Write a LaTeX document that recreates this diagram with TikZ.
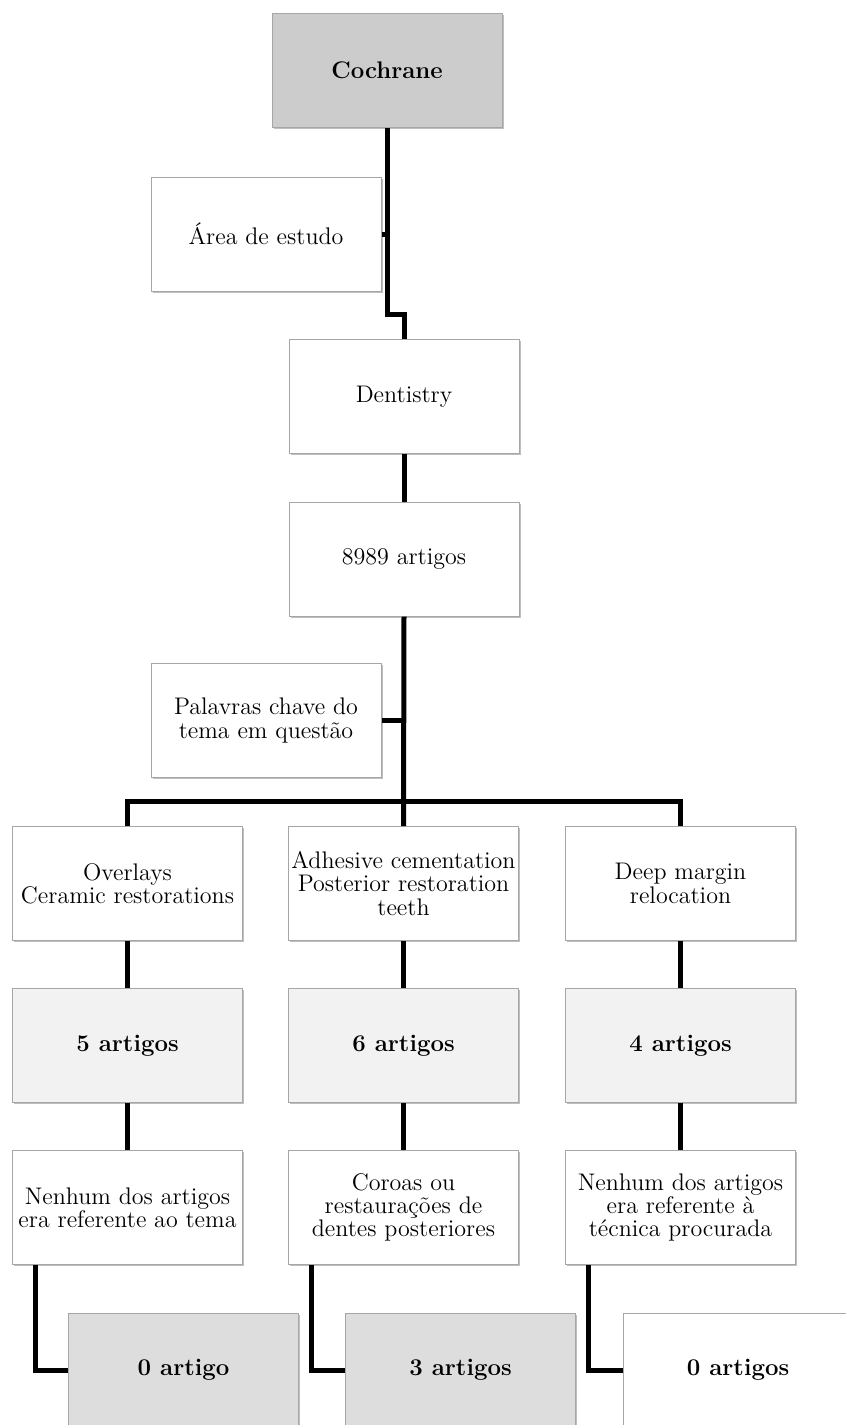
\documentclass[tikz,border=0pt]{standalone}
\usepackage{xcolor,amsmath}
\usetikzlibrary{shadows}

\begin{document}
\begin{tikzpicture}[x=0.5pt, y=-0.5pt,
		box/.style={draw=gray!70, line width=0.5pt, rectangle, minimum width=115pt, minimum height=57pt, inner sep=1pt, align=center, fill=white,
			font=\fontsize{12}{11.6}\selectfont, drop shadow={shadow xshift=0.9pt, shadow yshift=-0.9pt, opacity=0.5}},
		boldbox/.style={box, font=\fontsize{12}{11.6}\selectfont\bfseries},
		link/.style={line width=2.5pt, black}]
			\useasboundingbox (0, 0) rectangle (846, 1425);

			\draw (387, 70.5) 	node[boldbox, fill=gray!40] 	(cochrane) 	{Cochrane};
			\draw (266, 234) 	node[box] 	(area) 		{Área de estudo};
			\draw (404, 396.5) 	node[box] 	(dentistry) 	{Dentistry};
			\draw (404, 559) 	node[box] 	(artigos) 	{8989 artigos};
			\draw (266, 720.5) 	node[box] 	(palavras) 	{Palavras chave do\\tema em questão};

			\draw (127.5, 883.5) 	node[box] 	(overlays) 	{Overlays\\Ceramic restorations};
			\draw (403.5, 883.5) 	node[box] 	(adhesive) 	{Adhesive cementation\\Posterior restoration\\teeth};
			\draw (680.5, 883.5) 	node[box] 	(margin) 	{Deep margin\\relocation};

			\draw (127.5, 1045.5) 	node[boldbox, fill=gray!10] 	(overlays_n) 	{5 artigos};
			\draw (403.5, 1045.5) 	node[boldbox, fill=gray!10] 	(adhesive_n) 	{6 artigos};
			\draw (680.5, 1045.5) 	node[boldbox, fill=gray!10] 	(margin_n) 	{4 artigos};

			\draw (127.5, 1207.5) 	node[box] 	(overlays_r) 	{Nenhum dos artigos\\era referente ao tema};
			\draw (403.5, 1207.5) 	node[box] 	(adhesive_r) 	{Coroas ou\\restaurações de\\dentes posteriores};
			\draw (680.5, 1207.5) 	node[box] 	(margin_r) 	{Nenhum dos artigos\\era referente à\\técnica procurada};

			\draw (183.5, 1370) 	node[boldbox, fill=gray!27] 	(overlays_f) 	{0 artigo};
			\draw (460.5, 1370) 	node[boldbox, fill=gray!27] 	(adhesive_f) 	{3 artigos};
			\draw (738, 1370) 	node[boldbox] 	(margin_f) 	{0 artigos};

			\coordinate (bend) at (387, 314);
			\coordinate (split) at (404, 801);

			\draw[link] (cochrane.south) -- (bend) -| (dentistry.north);
			\draw[link] (area.east) -- (area.east -| cochrane.south);
			\draw[link] (dentistry) -- (artigos);
			\draw[link] (artigos.south) -- (adhesive.north);
			\draw[link] (palavras.east) -- (palavras.east -| artigos.south);
			\draw[link] (overlays.north) |- (split) -| (margin.north);

			\draw[link] (overlays) -- (overlays_n) -- (overlays_r);
			\draw[link] (adhesive) -- (adhesive_n) -- (adhesive_r);
			\draw[link] (margin) -- (margin_n) -- (margin_r);

			\draw[link] ([xshift=11.5pt]overlays_r.south west) |- (overlays_f.west);
			\draw[link] ([xshift=11.5pt]adhesive_r.south west) |- (adhesive_f.west);
			\draw[link] ([xshift=11.5pt]margin_r.south west) |- (margin_f.west);
		\end{tikzpicture}
\end{document}
